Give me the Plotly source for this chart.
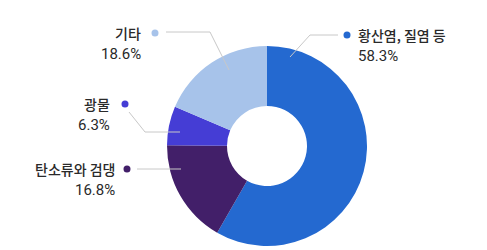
import plotly.graph_objects as go

W, H = 487, 250

categories = ["황산염, 질염 등", "탄소류와 검댕", "광물", "기타"]
values = [58.3, 16.8, 6.3, 18.6]
colors = ["#2469D0", "#421F69", "#453DD5", "#A7C3EA"]

# pie geometry (pixels)
CX, CY, R = 267, 146, 100

def px(x):
    return x / W

def py(y):
    return 1 - y / H

fig = go.Figure(go.Pie(
    labels=categories,
    values=values,
    sort=False,
    direction="clockwise",
    rotation=0,
    hole=0.4,
    textinfo="none",
    hoverinfo="label+percent",
    marker=dict(colors=colors, line=dict(width=0)),
    domain=dict(x=[px(CX - R), px(CX + R)], y=[py(CY + R), py(CY - R)]),
    showlegend=False,
))

# label layout: text anchor, side, dot position, leader polyline points (pixels)
label_layout = [
    dict(tx=356, ty=35, side="left", dot=(347, 35),
         path=[(338, 35), (310, 35), (290, 57)]),
    dict(tx=117, ty=169, side="right", dot=(127, 169),
         path=[(137, 169), (181, 169)]),
    dict(tx=112, ty=104, side="right", dot=(125, 104),
         path=[(129, 112), (145, 132), (180, 132)]),
    dict(tx=143, ty=33, side="right", dot=(155, 33),
         path=[(166, 32), (210, 32), (229, 70)]),
]

name_font = dict(family="Noto Sans CJK KR, sans-serif", size=14, color="#2a2a2a", weight=500)
pct_font = dict(family="Roboto, sans-serif", size=15, color="#2a2a2a", weight=400)
shapes = []
annotations = []
for name, val, col, lay in zip(categories, values, colors, label_layout):
    anchor = "left" if lay["side"] == "left" else "right"
    annotations.append(dict(
        x=px(lay["tx"]), y=py(lay["ty"]), xref="paper", yref="paper",
        text=name, showarrow=False, xanchor=anchor, yanchor="middle",
        font=name_font,
    ))
    annotations.append(dict(
        x=px(lay["tx"]), y=py(lay["ty"] + 21), xref="paper", yref="paper",
        text=f"{val}%", showarrow=False, xanchor=anchor, yanchor="middle",
        font=pct_font,
    ))
    dx, dy = lay["dot"]
    shapes.append(dict(type="circle", xref="paper", yref="paper",
                       x0=px(dx - 3.5), x1=px(dx + 3.5), y0=py(dy + 3.5), y1=py(dy - 3.5),
                       fillcolor=col, line=dict(width=0)))
    pts = lay["path"]
    d = "M " + " L ".join(f"{px(x)},{py(y)}" for x, y in pts)
    shapes.append(dict(type="path", xref="paper", yref="paper", path=d,
                       line=dict(color="#C8C8C8", width=1)))

fig.update_layout(
    width=W, height=H,
    margin=dict(l=0, r=0, t=0, b=0),
    paper_bgcolor="white",
    plot_bgcolor="white",
    shapes=shapes,
    annotations=annotations,
)

fig.write_html("out.html")
